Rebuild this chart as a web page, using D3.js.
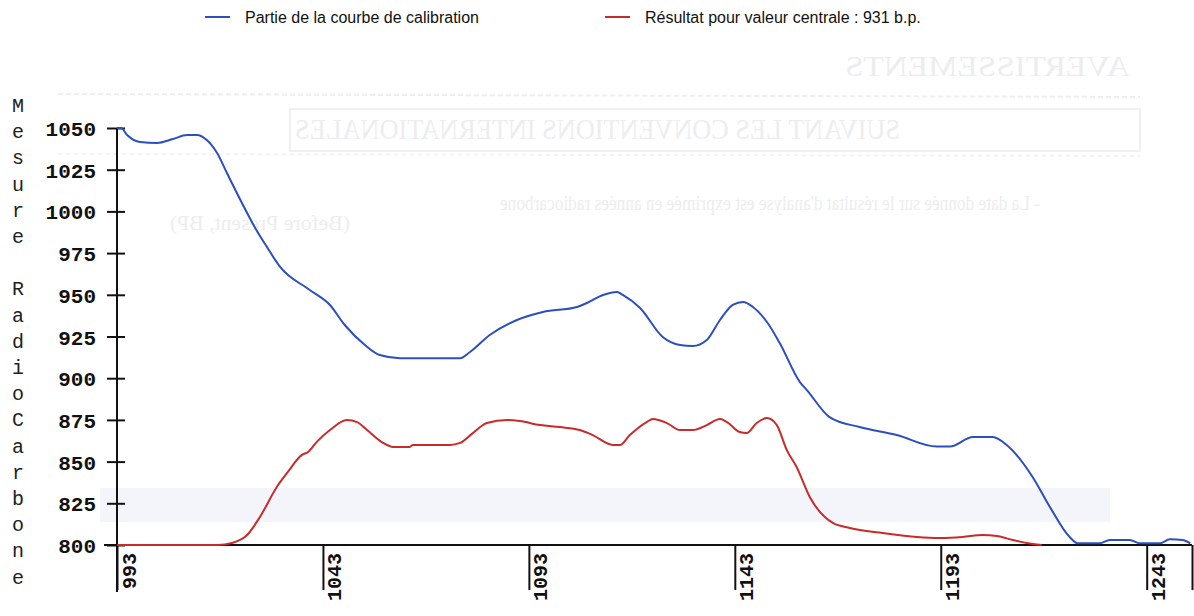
<!doctype html>
<html>
  <head>
    <meta charset="utf-8">
    <title>Courbe de calibration</title>
    <script src="https://cdnjs.cloudflare.com/ajax/libs/d3/7.8.5/d3.min.js"></script>
    <style>
      body { margin: 0; background: #fff; }
      svg { display: block; }
    </style>
  </head>
  <body>
    <div id="chart"></div>

    <script>
      // data: [year, radiocarbon measure]
      const calibrationPoints = [
        [993, 1050], [994, 1050], [995.4, 1046], [998.6, 1041.6], [1002.7, 1041], [1006.6, 1043.4],
        [1010, 1045.8], [1012.4, 1045.8], [1014.8, 1042.8], [1017.3, 1035], [1019.7, 1023],
        [1022.1, 1011], [1024.6, 999], [1026.8, 989], [1029.4, 978.7], [1032.6, 966.7],
        [1039.8, 952.9], [1044.7, 943.9], [1048.3, 931.9], [1053.2, 919.9], [1056.8, 913.9],
        [1061.7, 912], [1076.3, 912], [1078.7, 915.7], [1083.5, 925.9], [1090.1, 934.9],
        [1096.4, 939.7], [1104.7, 942.7], [1107.1, 945.1], [1111, 949.9], [1114.4, 951.7],
        [1115.8, 949.9], [1120, 942.1], [1125.5, 924.7], [1129.7, 919.9], [1132.8, 919.3],
        [1136.2, 922.9], [1139.4, 934.9], [1142.5, 943.9], [1145, 945.7], [1147.4, 942.7],
        [1150.8, 933.7], [1153.9, 921.1], [1158.8, 897.7], [1160.5, 892.9], [1166, 876.7],
        [1173.3, 870.7], [1182.3, 865.9], [1192, 859], [1195.2, 859], [1200.8, 864.7],
        [1205.6, 864.7], [1209, 860], [1215.3, 840.8], [1219.5, 822.8], [1224.3, 804.8],
        [1226.3, 801], [1231.6, 801], [1234, 803], [1238.9, 803], [1241.3, 801],
        [1246.2, 801], [1248.6, 803.4], [1251.7, 803], [1253.6, 801]
      ];

      const resultPoints = [
        [993, 800], [1017.5, 800], [1020.9, 801.2], [1024.6, 806], [1027.7, 816.8],
        [1031.8, 834.8], [1034.3, 843.2], [1037.9, 854], [1039.4, 855.8], [1041.5, 861.8],
        [1044.7, 868.9], [1048.8, 874.9], [1051.3, 873.7], [1053.7, 868.9], [1057.6, 861.2],
        [1060, 858.8], [1064.1, 858.8], [1064.8, 860], [1073.8, 860], [1076.3, 861.2],
        [1079.4, 867.1], [1082.8, 873.1], [1087.7, 874.9], [1090.8, 874.3], [1095.7, 871.9],
        [1100.5, 870.7], [1105.4, 868.9], [1108.5, 865.9], [1113.4, 860], [1115.1, 860],
        [1117.5, 865.9], [1121.6, 873.7], [1123.1, 875.5], [1126.5, 873.1], [1129.7, 868.9],
        [1132.8, 868.9], [1136.2, 871.9], [1139.4, 875.5], [1141.1, 873.7], [1144.2, 867.7],
        [1145.9, 867.1], [1148.3, 873.1], [1150.8, 876.1], [1153.2, 871.9], [1155.6, 857],
        [1158, 846.8], [1161.2, 828.8], [1166.8, 813.2], [1170.9, 810.2], [1178.9, 807.2],
        [1187.2, 804.8], [1192.8, 804.2], [1198.3, 804.8], [1203.2, 806], [1206.6, 805.4],
        [1210.5, 803], [1213.9, 801.2], [1217.5, 800]
      ];

      const xTicks = [993, 1043, 1093, 1143, 1193, 1243];
      const xEnd = 1254;
      const yTicks = [800, 825, 850, 875, 900, 925, 950, 975, 1000, 1025, 1050];
      const yTitle = "Mesure RadioCarbone";
      const legendLabels = ["Partie de la courbe de calibration", "Résultat pour valeur centrale : 931 b.p."];
      const seriesColors = ["#2b4fbf", "#c92a2a"];

      const width = 1194, height = 616;
      const mono = "'Liberation Mono', 'Courier New', monospace";

      const svg = d3.select('#chart')
        .append('svg')
        .attr('width', width)
        .attr('height', height);

      // faint bleed-through of the scanned page (mirrored), behind the chart
      const ghost = svg.append('g').attr('fill', '#ededf0')
        .style('font-family', "'Liberation Serif', 'DejaVu Serif', serif");
      ghost.append('rect').attr('x', 100).attr('y', 488).attr('width', 1010).attr('height', 34)
        .attr('fill', '#f4f5fa');
      ghost.append('line').attr('x1', 58).attr('x2', 1140).attr('y1', 94).attr('y2', 97)
        .attr('stroke', '#eeeeee').attr('stroke-width', 2).attr('stroke-dasharray', '5 3');
      ghost.append('line').attr('x1', 58).attr('x2', 1140).attr('y1', 154).attr('y2', 156)
        .attr('stroke', '#f2f2f2').attr('stroke-width', 2).attr('stroke-dasharray', '4 4');
      ghost.append('rect').attr('x', 290).attr('y', 109).attr('width', 850).attr('height', 42)
        .attr('fill', 'none').attr('stroke', '#f0f0f0').attr('stroke-width', 2);
      // [text, left, right, baseline, size]
      const ghostTexts = [
        ["AVERTISSEMENTS", 845, 1130, 76, 30],
        ["SUIVANT LES CONVENTIONS INTERNATIONALES", 295, 900, 139, 29],
        ["- La date donnée sur le résultat d'analyse est exprimée en années radiocarbone", 500, 1040, 210, 20],
        ["(Before Present, BP)", 170, 350, 230, 20]
      ];
      ghostTexts.forEach(([t, l, r, b, fs]) => {
        ghost.append('text')
          .attr('transform', `translate(${r},${b}) scale(-1,1)`)
          .attr('textLength', r - l)
          .attr('lengthAdjust', 'spacingAndGlyphs')
          .style('font-size', fs + 'px')
          .text(t);
      });

      const x = d3.scaleLinear().domain([993, xEnd]).range([117, 1192]);
      const y = d3.scaleLinear().domain([800, 1050]).range([545, 128]);

      // y axis
      const yAxis = svg.append('g')
        .attr('transform', 'translate(117,0)')
        .call(d3.axisLeft(y).tickValues(yTicks).tickSize(10).tickPadding(21).tickFormat(d3.format('d')));
      yAxis.select('.domain').remove();
      yAxis.selectAll('.tick line').attr('x1', 8).attr('stroke-width', 2).attr('stroke', '#111');
      yAxis.selectAll('.tick text')
        .attr('x', -21)
        .attr('dy', '0.36em')
        .style('font-family', mono)
        .style('font-weight', 'bold')
        .style('font-size', '21px')
        .attr('fill', '#111');
      svg.append('line')
        .attr('x1', 117).attr('x2', 117)
        .attr('y1', y(1050)).attr('y2', 592)
        .attr('stroke', '#111').attr('stroke-width', 2);

      // x axis
      const xAxis = svg.append('g')
        .attr('transform', `translate(0,${y(800)})`)
        .call(d3.axisBottom(x)
          .tickValues([...xTicks, xEnd])
          .tickSize(45)
          .tickFormat(d => xTicks.includes(d) ? d : ''));
      xAxis.select('.domain').remove();
      xAxis.selectAll('.tick line').attr('stroke-width', 2).attr('stroke', '#111');
      xAxis.selectAll('.tick text')
        .attr('x', 0).attr('y', 0).attr('dy', null)
        .attr('transform', 'translate(18,8) rotate(-90)')
        .attr('text-anchor', 'end')
        .style('font-family', mono)
        .style('font-weight', 'bold')
        .style('font-size', '20px')
        .attr('fill', '#111');
      svg.append('line')
        .attr('x1', 104).attr('x2', x(xEnd))
        .attr('y1', y(800)).attr('y2', y(800))
        .attr('stroke', '#111').attr('stroke-width', 2);

      // vertical axis title, one letter per row
      svg.append('g')
        .selectAll('text')
        .data(yTitle.split(''))
        .join('text')
        .attr('x', 18)
        .attr('y', (d, i) => 112 + i * 26.2)
        .attr('text-anchor', 'middle')
        .style('font-family', mono)
        .style('font-size', '20px')
        .attr('fill', '#222')
        .text(d => d);

      // curves
      const line = d3.line()
        .x(d => x(d[0]))
        .y(d => y(d[1]))
        .curve(d3.curveMonotoneX);

      svg.append('path')
        .datum(resultPoints)
        .attr('d', line)
        .attr('fill', 'none')
        .attr('stroke', seriesColors[1])
        .attr('stroke-width', 2);

      svg.append('path')
        .datum(calibrationPoints)
        .attr('d', line)
        .attr('fill', 'none')
        .attr('stroke', seriesColors[0])
        .attr('stroke-width', 2);

      // legend
      const legendX = [205, 605];
      const legend = svg.append('g')
        .selectAll('g')
        .data(legendLabels)
        .join('g')
        .attr('transform', (d, i) => `translate(${legendX[i]},17)`);
      legend.append('line')
        .attr('x1', 0).attr('x2', 25)
        .attr('stroke', (d, i) => seriesColors[i])
        .attr('stroke-width', 2);
      legend.append('text')
        .attr('x', 40)
        .attr('dy', '0.35em')
        .style('font-family', "'Liberation Sans', Arial, sans-serif")
        .style('font-size', '16px')
        .attr('fill', '#111')
        .text(d => d);
    </script>
  </body>
</html>
